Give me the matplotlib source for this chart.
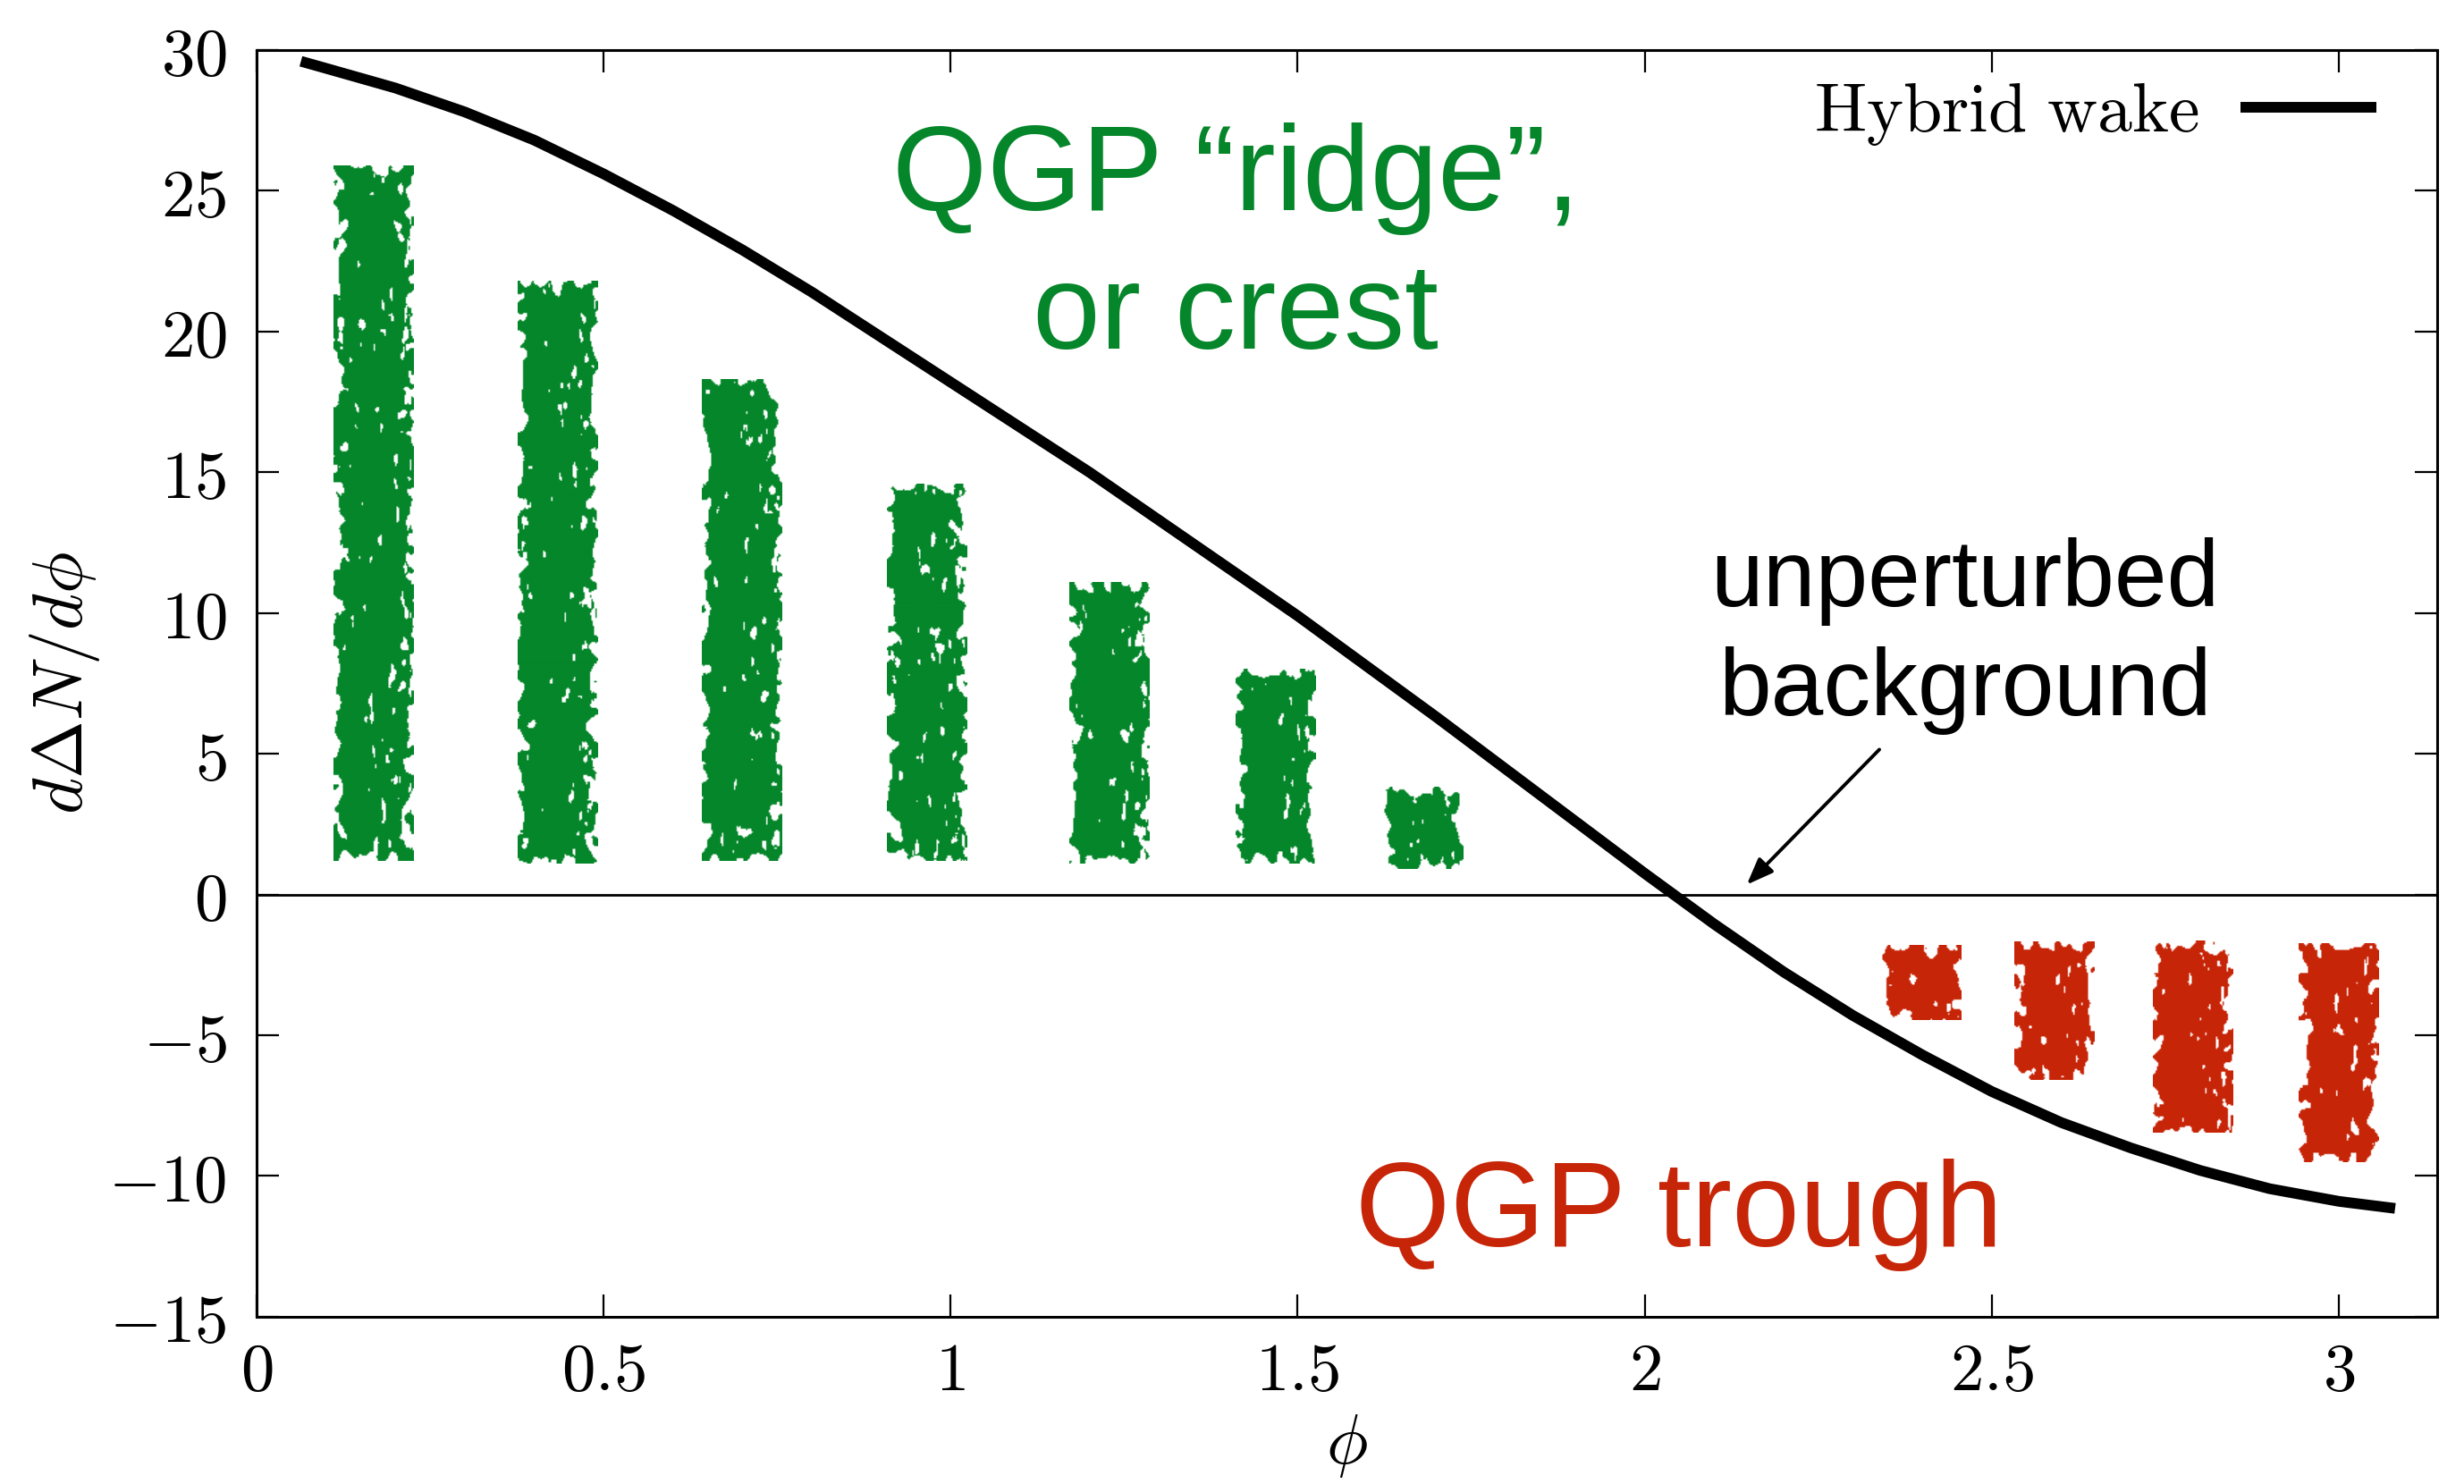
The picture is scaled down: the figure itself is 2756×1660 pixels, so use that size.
import numpy as np
import matplotlib
matplotlib.use("Agg")
import matplotlib.pyplot as plt
from matplotlib.colors import to_rgb


# ---------- DATA ----------
wake_phi = [0.064, 0.1, 0.2, 0.3, 0.4, 0.5, 0.6, 0.7, 0.8, 0.9, 1.0, 1.1, 1.2, 1.3,
            1.4, 1.5, 1.6, 1.7, 1.8, 1.9, 2.0, 2.1, 2.2, 2.3, 2.4, 2.5, 2.6, 2.7,
            2.8, 2.9, 3.0, 3.081]
wake_dn = [29.6, 29.35, 28.65, 27.8, 26.8, 25.6, 24.3, 22.9, 21.4, 19.8, 18.2, 16.6,
           15.0, 13.3, 11.6, 9.9, 8.1, 6.3, 4.45, 2.6, 0.75, -1.05, -2.75, -4.3, -5.7,
           -7.0, -8.1, -9.0, -9.8, -10.45, -10.9, -11.15]

ridge_phi = [0.169, 0.434, 0.699, 0.966, 1.229, 1.468, 1.681]
ridge_top = [25.9, 21.8, 18.3, 14.6, 11.1, 8.0, 3.8]
ridge_bottom = [1.2, 1.1, 1.2, 1.2, 1.1, 1.1, 0.9]

trough_phi = [2.398, 2.59, 2.79, 3.0]
trough_top = [-1.8, -1.7, -1.65, -1.75]
trough_bottom = [-4.45, -6.6, -8.45, -9.5]

x_ticks = [0, 0.5, 1, 1.5, 2, 2.5, 3]
y_ticks = [-15, -10, -5, 0, 5, 10, 15, 20, 25, 30]

GREEN = "#05862a"
RED = "#c72508"
BAR_W = 0.115


# ---------- PAINT-STROKE TEXTURE ----------
def hash_noise(ny, nx, k):
    j, i = np.mgrid[0:ny, 0:nx]
    v = np.sin(i * 12.9898 + j * 78.233 + k * 37.719) * 43758.5453
    return v - np.floor(v)


def blur(a, ry, rx):
    for axis, r in ((0, ry), (1, rx)):
        if r < 1:
            continue
        kern = np.ones(2 * r + 1) / (2 * r + 1)
        pad = [(0, 0), (0, 0)]
        pad[axis] = (r, r)
        p = np.pad(a, pad, mode="reflect")
        a = np.apply_along_axis(lambda c: np.convolve(c, kern, mode="valid"), axis, p)
    return a


def smooth_noise(ny, nx, k, ry, rx):
    a = blur(blur(hash_noise(ny, nx, k), ry, rx), ry, rx)
    return (a - a.mean()) / a.std()


def paint_bar(ax, xc, y0, y1, color, k):
    lo, hi = min(y0, y1), max(y0, y1)
    px_w, px_h = 90.0, (hi - lo) * 31.5
    nx, ny = int(px_w / 1.5), max(int(px_h / 1.5), 16)
    n1 = smooth_noise(ny, nx, k, 3, 2)
    n2 = smooth_noise(ny, nx, k + 11, 3, 1)
    j, i = np.mgrid[0:ny, 0:nx]
    u = (i + 0.5) / nx
    v = (j + 0.5) / ny
    d = np.minimum(np.minimum(u, 1 - u) * px_w, np.minimum(v, 1 - v) * px_h)
    solid = d + 5 * n1 > 4.5
    holes = (n2 > 2.6 - 1.4 * u) & (d > 3)
    mask = solid & ~holes
    rgba = np.zeros((ny, nx, 4))
    rgba[..., :3] = to_rgb(color)
    rgba[..., 3] = mask
    ax.imshow(rgba, extent=(xc - BAR_W / 2, xc + BAR_W / 2, lo, hi), origin="lower",
              aspect="auto", interpolation="bilinear", zorder=1)


# ---------- FIGURE ----------
plt.rcParams["mathtext.fontset"] = "cm"
fig = plt.figure(figsize=(13.78, 8.3), dpi=200)
ax = fig.add_axes([0.1041, 0.1127, 0.885, 0.8536])

for n, (x, t, b) in enumerate(zip(ridge_phi, ridge_top, ridge_bottom)):
    paint_bar(ax, x, b, t, GREEN, n * 3 + 1)
for n, (x, t, b) in enumerate(zip(trough_phi, trough_top, trough_bottom)):
    paint_bar(ax, x, t, b, RED, n * 5 + 40)

ax.axhline(0, color="black", lw=1.0, zorder=2)
ax.plot(wake_phi, wake_dn, color="black", lw=4.3, solid_capstyle="butt",
        solid_joinstyle="round", label=r"$\mathrm{Hybrid\ wake}$", zorder=3)

# annotations
sans = "Liberation Sans"
ax.text(1.411, 24.3, "QGP \u201cridge\u201d,", color=GREEN, fontsize=49, family=sans,
        ha="center", va="baseline")
ax.text(1.411, 19.4, "or crest", color=GREEN, fontsize=49, family=sans,
        ha="center", va="baseline")
ax.text(2.049, -12.5, "QGP trough", color=RED, fontsize=49, family=sans,
        ha="center", va="baseline")
ax.text(2.461, 10.26, "unperturbed", color="black", fontsize=38, family=sans,
        ha="center", va="baseline")
ax.text(2.461, 6.36, "background", color="black", fontsize=38, family=sans,
        ha="center", va="baseline")
ax.annotate("", xy=(2.147, 0.35), xytext=(2.338, 5.15),
            arrowprops=dict(arrowstyle="-|>,head_length=0.9,head_width=0.35",
                            color="black", lw=1.4, shrinkA=0, shrinkB=0))

# axes
ax.set_xlim(0, np.pi)
ax.set_ylim(-15, 30)
ax.set_xticks(x_ticks)
ax.set_xticklabels([f"${v:g}$" for v in x_ticks])
ax.set_yticks(y_ticks)
ax.set_yticklabels([f"${v}$" for v in y_ticks])
ax.tick_params(direction="in", length=9, width=0.8, labelsize=27, top=True, right=True)
ax.tick_params(axis="y", pad=12)
ax.tick_params(axis="x", pad=9)
for s in ax.spines.values():
    s.set_linewidth(1.1)

ax.set_xlabel(r"$\phi$", fontsize=28)
ax.set_ylabel(r"$d\Delta N/d\phi$", fontsize=28)
ax.xaxis.set_label_coords(0.5, -0.075)
ax.yaxis.set_label_coords(-0.071, 0.5)

ax.legend(loc="upper right", bbox_to_anchor=(0.972, 0.978), frameon=False,
          markerfirst=False, fontsize=28, handlelength=1.95, handletextpad=0.6,
          borderaxespad=0, borderpad=0)

fig.savefig("out.png", dpi=200)
